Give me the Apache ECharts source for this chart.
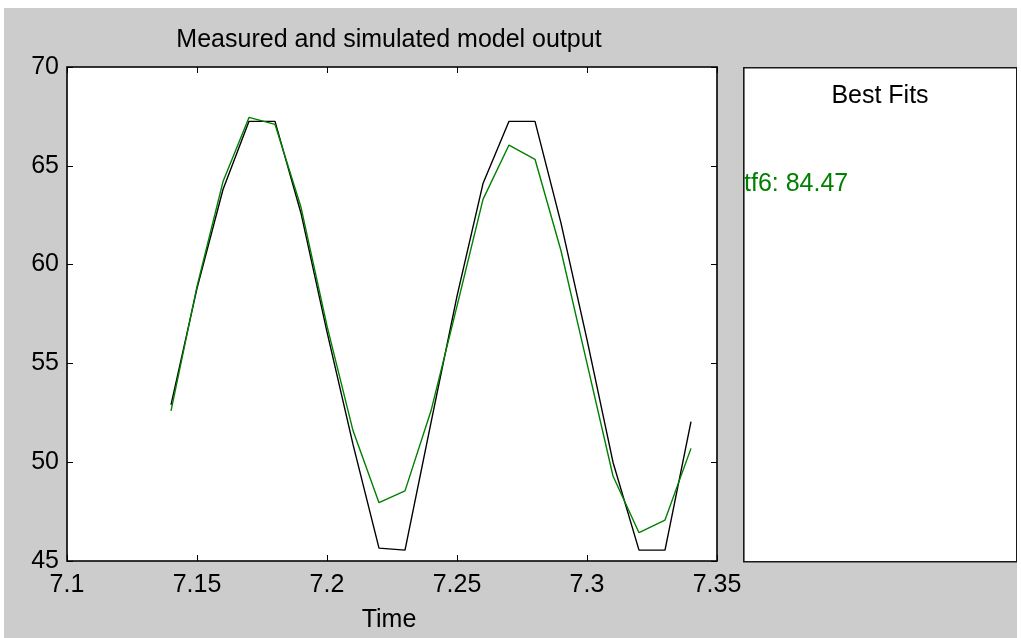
<!DOCTYPE html>
<html lang="en">
<head>
    <meta charset="utf-8" />
    <title>Measured and simulated model output</title>
    <style>
        body { margin: 0; background: #ffffff; }
        #main { position: absolute; left: 4px; top: 8px; width: 1013px; height: 630px; }
    </style>
</head>
<body>
    <div id="main"></div>
    <script src="https://cdn.jsdelivr.net/npm/echarts@6/dist/echarts.min.js"></script>
    <script>
        // time axis values
        var time = [7.14, 7.15, 7.16, 7.17, 7.18, 7.19, 7.20, 7.21, 7.22, 7.23, 7.24,
                    7.25, 7.26, 7.27, 7.28, 7.29, 7.30, 7.31, 7.32, 7.33, 7.34];
        // measured output (black)
        var measured = [52.9, 58.8, 63.8, 67.25, 67.25, 62.6, 56.6, 50.9, 45.65, 45.55, 52.0,
                        58.4, 64.1, 67.25, 67.25, 62.1, 56.2, 50.0, 45.55, 45.55, 52.05];
        // simulated model tf6 (green)
        var simulated = [52.6, 58.9, 64.2, 67.45, 67.1, 62.9, 56.9, 51.6, 47.95, 48.55, 52.6,
                         57.9, 63.3, 66.05, 65.33, 60.7, 55.0, 49.3, 46.43, 47.07, 50.7];
        var fitLabel = 'tf6: 84.47';

        function pairs(xs, ys) {
            var out = [];
            for (var i = 0; i < xs.length; i++) out.push([xs[i], ys[i]]);
            return out;
        }

        var font = '"Liberation Sans", Arial, sans-serif';
        var fs = 25;
        var axisStyle = { color: '#1a1a1a', width: 1.6 };

        var myChart = echarts.init(document.getElementById('main'));
        var option = {
            backgroundColor: '#cccccc',
            animation: false,
            grid: {
                left: 63, top: 59, width: 650, height: 494,
                show: true, backgroundColor: '#ffffff', borderColor: '#1a1a1a', borderWidth: 1
            },
            xAxis: [{
                type: 'value', min: 7.1, max: 7.35, interval: 0.05, position: 'bottom',
                axisLine: { show: true, lineStyle: axisStyle },
                axisTick: { show: true, inside: true, length: 6, lineStyle: { color: '#000' } },
                splitLine: { show: false },
                axisLabel: {
                    color: '#000', fontFamily: font, fontSize: fs, margin: 12,
                    formatter: function (v) { return String(parseFloat(v.toFixed(2))); }
                }
            }, {
                type: 'value', min: 7.1, max: 7.35, interval: 0.05, position: 'top',
                axisLine: { show: true, lineStyle: axisStyle },
                axisTick: { show: true, inside: true, length: 6, lineStyle: { color: '#000' } },
                splitLine: { show: false },
                axisLabel: { show: false }
            }],
            yAxis: [{
                type: 'value', min: 45, max: 70, interval: 5, position: 'left',
                axisLine: { show: true, lineStyle: axisStyle },
                axisTick: { show: true, inside: true, length: 6, lineStyle: { color: '#000' } },
                splitLine: { show: false },
                axisLabel: { color: '#000', fontFamily: font, fontSize: fs, margin: 8 }
            }, {
                type: 'value', min: 45, max: 70, interval: 5, position: 'right',
                axisLine: { show: true, lineStyle: axisStyle },
                axisTick: { show: true, inside: true, length: 6, lineStyle: { color: '#000' } },
                splitLine: { show: false },
                axisLabel: { show: false }
            }],
            graphic: [
                {
                    type: 'rect', left: 739, top: 59, z: 0,
                    shape: { width: 273, height: 494 },
                    style: { fill: '#ffffff', stroke: '#1a1a1a', lineWidth: 1.6 }
                },
                {
                    type: 'text', x: 385, y: 32, z: 10,
                    style: { text: 'Measured and simulated model output', font: fs + 'px ' + font,
                             fill: '#000', align: 'center', verticalAlign: 'middle' }
                },
                {
                    type: 'text', x: 876, y: 88, z: 10,
                    style: { text: 'Best Fits', font: fs + 'px ' + font,
                             fill: '#000', align: 'center', verticalAlign: 'middle' }
                },
                {
                    type: 'text', x: 740, y: 176, z: 10,
                    style: { text: fitLabel, font: fs + 'px ' + font,
                             fill: '#008000', align: 'left', verticalAlign: 'middle' }
                },
                {
                    type: 'text', x: 385, y: 612, z: 10,
                    style: { text: 'Time', font: fs + 'px ' + font,
                             fill: '#000', align: 'center', verticalAlign: 'middle' }
                }
            ],
            series: [{
                name: 'Measured', type: 'line', xAxisIndex: 0, yAxisIndex: 0,
                data: pairs(time, measured), showSymbol: false,
                lineStyle: { color: '#000000', width: 1.4 }
            }, {
                name: 'tf6', type: 'line', xAxisIndex: 0, yAxisIndex: 0,
                data: pairs(time, simulated), showSymbol: false,
                lineStyle: { color: '#008000', width: 1.4 }
            }]
        };
        myChart.setOption(option);
    </script>
</body>
</html>
